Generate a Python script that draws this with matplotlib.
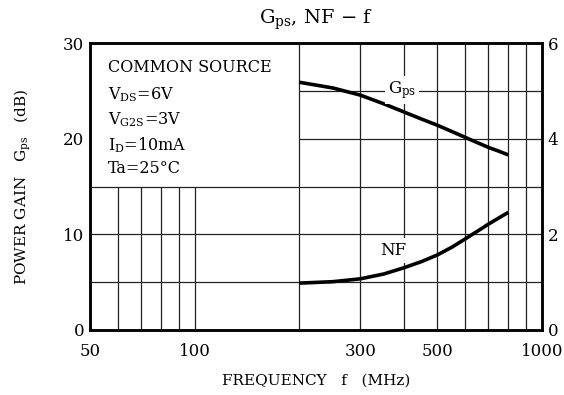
import numpy as np
import matplotlib
matplotlib.use("Agg")
import matplotlib.pyplot as plt

plt.rcParams['font.family'] = ['DejaVu Serif']
plt.rcParams['mathtext.fontset'] = 'dejavuserif'

# Data
freq = [200, 250, 300, 350, 400, 450, 500, 550, 600, 650, 700, 750, 800]
gps_db = [25.9, 25.3, 24.55, 23.65, 22.8, 22.05, 21.4, 20.75, 20.15, 19.6, 19.1, 18.7, 18.3]
nf_db = [0.98, 1.01, 1.07, 1.17, 1.30, 1.43, 1.57, 1.73, 1.90, 2.06, 2.21, 2.34, 2.46]

x_ticks = [50, 100, 300, 500, 1000]
x_ticklabels = ["50", "100", "300", "500", "1000"]
y_left_ticks = [0, 10, 20, 30]
y_right_ticks = [0, 2, 4, 6]

conditions = ["COMMON SOURCE", r"V$_{\rm DS}$=6V", r"V$_{\rm G2S}$=3V",
              r"I$_{\rm D}$=10mA", "Ta=25°C"]

fig = plt.figure(figsize=(5.64, 3.95), dpi=100)
ax = fig.add_axes([90/564, 1-330/395, (542-90)/564, (330-43)/395])
ax.set_xscale('log')
ax.set_xlim(50, 1000)
ax.set_ylim(0, 30)

gc = '#222222'
glw = 0.9
# grid
ax.vlines([60, 70, 80, 90, 100], 0, 15, color=gc, lw=glw, zorder=1)
ax.vlines([200, 300, 400, 500, 600, 700, 800, 900], 0, 30, color=gc, lw=glw, zorder=1)
ax.hlines([5, 10, 15], 50, 1000, color=gc, lw=glw, zorder=1)
ax.hlines([20, 25], 200, 1000, color=gc, lw=glw, zorder=1)

# curves
ax.plot(freq, gps_db, color='black', lw=2.6, zorder=3, solid_capstyle='butt')
ax2 = ax.twinx()
ax2.set_ylim(0, 6)
ax2.plot(freq, nf_db, color='black', lw=2.6, zorder=3, solid_capstyle='butt')

# labels on curves
ax.text(395, 25.1, r"G$_{\rm ps}$", ha='center', va='center', fontsize=12,
        bbox=dict(facecolor='white', edgecolor='none', pad=2), zorder=4)
ax.text(372, 8.3, "NF", ha='center', va='center', fontsize=12,
        bbox=dict(facecolor='white', edgecolor='none', pad=3), zorder=4)

# condition text
ys = [0.913, 0.819, 0.732, 0.645, 0.564]
for s, yy in zip(conditions, ys):
    ax.text(0.04, yy, s, transform=ax.transAxes, fontsize=11.5, va='center', ha='left')

ax.set_xticks(x_ticks)
ax.set_xticklabels(x_ticklabels)
ax.xaxis.set_minor_locator(matplotlib.ticker.NullLocator())
ax.set_yticks(y_left_ticks)
ax2.set_yticks(y_right_ticks)

for a in (ax, ax2):
    for sp in a.spines.values():
        sp.set_linewidth(1.8)
    a.tick_params(direction='in', length=0, labelsize=12, pad=4)
ax.tick_params(axis='x', pad=9)

ax.set_title(r"G$_{\rm ps}$, NF $-$ f", fontsize=14, pad=14)
ax.set_xlabel("FREQUENCY   f   (MHz)", fontsize=11, labelpad=10)
ax.set_ylabel(r"POWER GAIN   G$_{\rm ps}$   (dB)", fontsize=11, labelpad=22)

fig.savefig("out.png", dpi=100)
